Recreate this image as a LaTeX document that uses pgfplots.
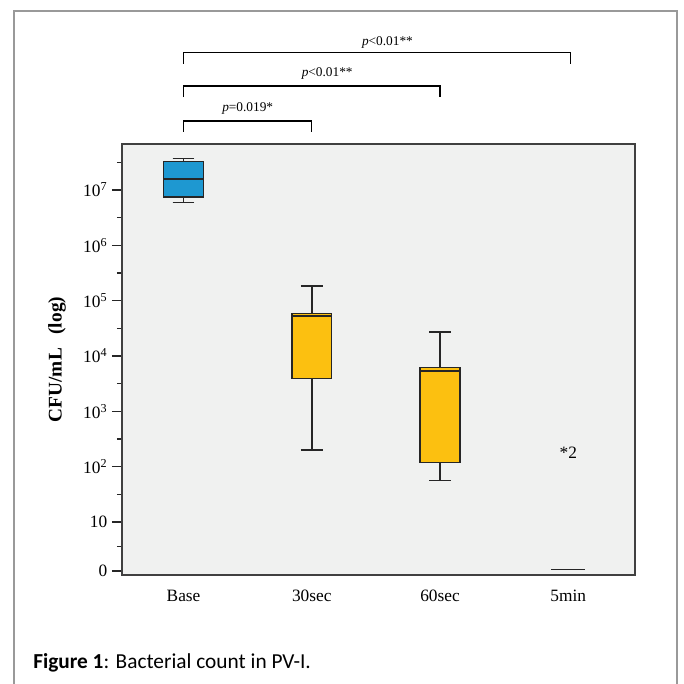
\documentclass[border=0pt]{standalone}
\usepackage{pgfplots}
\pgfplotsset{compat=1.18}
\usepgfplotslibrary{statistics}
\usepackage{fontspec}
\setmainfont{Liberation Serif}
\newfontfamily\capfont{Carlito}

\definecolor{boxblue}{HTML}{1E98D1}
\definecolor{boxyellow}{HTML}{FCC010}
\definecolor{panelbg}{HTML}{F0F1F0}
\definecolor{edge}{HTML}{262626}

\begin{document}
\begin{tikzpicture}
    % page = 683 x 684 px at 0.75pt per px
    \path[use as bounding box] (-91.5pt,-81.75pt) rectangle (420.75pt,431.25pt);
    \begin{axis}[
        at={(0,0)}, anchor=south west,
        scale only axis,
        width=384.75pt, height=323.25pt,
        xmin=0.52, xmax=4.52,
        ymin=0.042, ymax=7.831,
        clip=false,
        boxplot/draw direction=y,
        boxplot/every median/.style={draw=edge, line width=1.3pt},
        boxplot/every box/.style={draw=edge, line width=1.1pt},
        boxplot/every whisker/.style={draw=edge, line width=1.1pt},
        axis background/.style={fill=panelbg},
        axis line style={draw=black!75, line width=1.1pt},
        xtick={1,2,3,4},
        xticklabels={Base,30sec,60sec,5min},
        xtick style={draw=none},
        ytick={0.114,1,2,3,4,5,6,7},
        yticklabels={0,10,10\textsuperscript{2},10\textsuperscript{3},10\textsuperscript{4},10\textsuperscript{5},10\textsuperscript{6},10\textsuperscript{7}},
        minor ytick={0.557,1.5,2.5,3.5,4.5,5.5,6.5,7.5},
        ytick pos=left,
        tick align=outside,
        major tick length=7.5pt,
        minor tick length=3.75pt,
        ytick style={draw=black!85, line width=0.9pt},
        tick label style={font=\fontsize{13}{15}\selectfont},
        ylabel={\textbf{CFU/mL\hspace{0.7em}(log)}},
        every axis y label/.style={at={(axis description cs:0,0.5)}, xshift=-48.75pt, rotate=90, anchor=center, font=\fontsize{14.5}{17}\selectfont},
    ]
    % Base
    \addplot[boxplot prepared={draw position=1,
        lower whisker=6.778, lower quartile=6.873, median=7.193,
        upper quartile=7.511, upper whisker=7.566,
        box extend=0.31, whisker extend=0.17},
        draw=edge, fill=boxblue, line width=1.1pt] coordinates {};
    % 30sec
    \addplot[boxplot prepared={draw position=2,
        lower whisker=2.301, lower quartile=3.590, median=4.723,
        upper quartile=4.771, upper whisker=5.265,
        box extend=0.31, whisker extend=0.17},
        draw=edge, fill=boxyellow, line width=1.1pt] coordinates {};
    % 60sec
    \addplot[boxplot prepared={draw position=3,
        lower whisker=1.753, lower quartile=2.072, median=3.735,
        upper quartile=3.789, upper whisker=4.434,
        box extend=0.31, whisker extend=0.17},
        draw=edge, fill=boxyellow, line width=1.1pt] coordinates {};
    % 5min: all values at zero
    \addplot[draw=edge, line width=1.2pt] coordinates {(3.867,0.14) (4.133,0.14)};
    % outlier, case 2
    \addplot[only marks, mark=none, point meta=explicit symbolic,
        nodes near coords,
        every node near coord/.style={anchor=center, font=\fontsize{13}{15}\selectfont}]
        coordinates {(4,2.25) [*2]};

    % significance brackets
    \addplot[black, line width=0.9pt] coordinates {(1,8.048) (1,8.247) (2,8.247) (2,8.048)};
    \addplot[black, line width=0.9pt] coordinates {(1,8.68) (1,8.88) (3,8.88) (3,8.68)};
    \addplot[black, line width=0.9pt] coordinates {(1,9.277) (1,9.48) (4.016,9.48) (4.016,9.277)};
    \node[font=\fontsize{10}{12}\selectfont] at (axis cs:1.5,8.464) {\textit{p}=0.019*};
    \node[font=\fontsize{10}{12}\selectfont] at (axis cs:2.12,9.097) {\textit{p}<0.01**};
    \node[font=\fontsize{10}{12}\selectfont] at (axis cs:2.59,9.657) {\textit{p}<0.01**};
    \end{axis}
    % outer frame (bottom edge runs off the page)
    \draw[black!40, line width=1.5pt] (-81pt,-95pt) -- (-81pt,423pt) -- (416.25pt,423pt) -- (416.25pt,-95pt);
    \node[anchor=west, inner sep=0pt, font=\capfont\fontsize{16}{18}\selectfont] at (-66.75pt,-66pt) {\textbf{Figure 1}: Bacterial count in PV-I.};
\end{tikzpicture}
\end{document}
